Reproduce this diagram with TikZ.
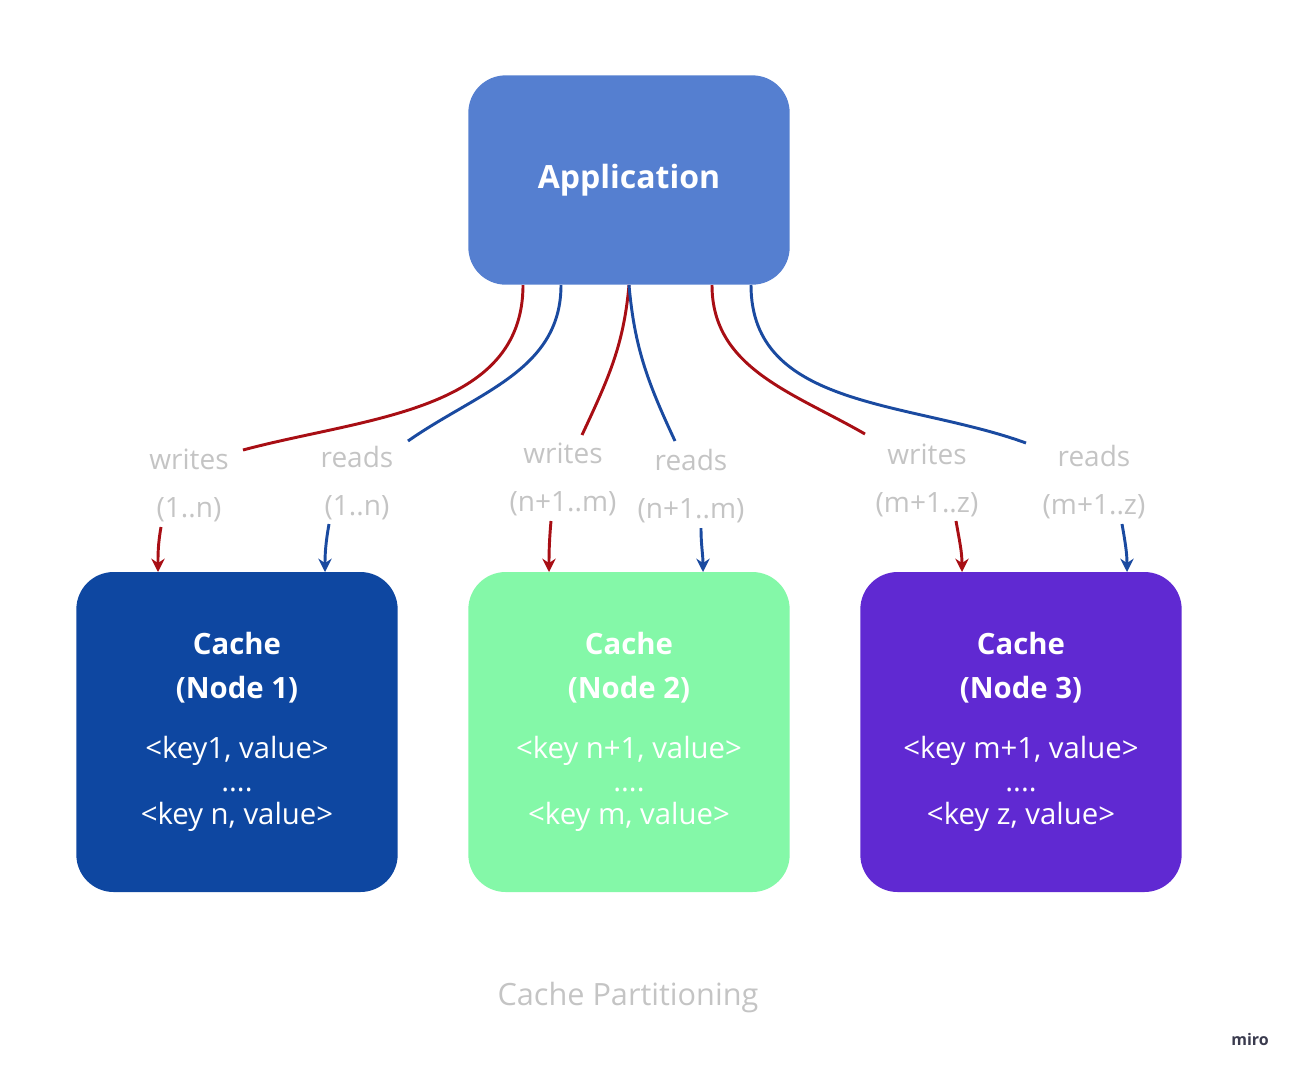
\documentclass[tikz,border=0pt]{standalone}
\usepackage{fontspec}
\setmainfont{Open Sans}
\usetikzlibrary{arrows.meta, positioning}
\definecolor{appblue}{HTML}{557FD0}
\definecolor{nodeblue}{HTML}{0E47A1}
\definecolor{nodegreen}{HTML}{84F8A8}
\definecolor{nodepurple}{HTML}{6029D2}
\definecolor{wred}{HTML}{A80E14}
\definecolor{rblue}{HTML}{1A4AA0}
\definecolor{lblgray}{HTML}{C4C4C4}
\definecolor{miroink}{HTML}{3A3B4E}

\begin{document}
\begin{tikzpicture}[
		x=0.75pt, y=-0.75pt,
		box/.style	={ rounded corners=28pt, minimum width=241pt, minimum height=240pt,
			text=white, align=center, inner sep=0pt,
			font=\fontsize{22}{33}\selectfont
		},
		lbl/.style	={ text=lblgray, align=center, inner sep=1pt,
			font=\fontsize{21}{36}\selectfont
		},
		wline/.style	={ draw=wred, line width=2.2pt },
		rline/.style	={ draw=rblue, line width=2.2pt },
		tip/.style	={ -{Stealth[length=10pt,width=10pt]} },
	]
	\useasboundingbox (0,0) rectangle (1300,1076);

	% application and cache nodes
	\node (app) [box, fill=appblue, minimum height=157pt, font=\bfseries\fontsize{24}{30}\selectfont]
		at (629,180) {Application};
	\node (c1) [box, fill=nodeblue] at (237,732)
		{\textbf{Cache}\\\textbf{(Node 1)}\\[12pt]<key1, value>\\[-8pt]....\\[-8pt]<key n, value>};
	\node (c2) [box, fill=nodegreen] at (629,732)
		{\textbf{Cache}\\\textbf{(Node 2)}\\[12pt]<key n+1, value>\\[-8pt]....\\[-8pt]<key m, value>};
	\node (c3) [box, fill=nodepurple] at (1021,732)
		{\textbf{Cache}\\\textbf{(Node 3)}\\[12pt]<key m+1, value>\\[-8pt]....\\[-8pt]<key z, value>};

	% labels
	\node (w1) [lbl] at (189,485) {writes\\(1..n)};
	\node (r1) [lbl] at (357,483) {reads\\(1..n)};
	\node (w2) [lbl] at (563,479) {writes\\(n+1..m)};
	\node (r2) [lbl] at (691,486) {reads\\(n+1..m)};
	\node (w3) [lbl] at (927,480) {writes\\(m+1..z)};
	\node (r3) [lbl] at (1094,482) {reads\\(m+1..z)};

	% ends of the curves
	\coordinate (aw1) at (523,285);	\coordinate (ew1) at (243,450);
	\coordinate (ar1) at (561,285);	\coordinate (er1) at (408,441);
	\coordinate (aw2) at (629,285);	\coordinate (ew2) at (582,435);
	\coordinate (ar2) at (629,285);	\coordinate (er2) at (675,441);
	\coordinate (aw3) at (712,285);	\coordinate (ew3) at (865,434);
	\coordinate (ar3) at (751,285);	\coordinate (er3) at (1026,443);
	\coordinate (sw1) at (161,527);	\coordinate (tw1) at (158,572);
	\coordinate (sr1) at (329,524);	\coordinate (tr1) at (325,572);
	\coordinate (sw2) at (551,521);	\coordinate (tw2) at (549,572);
	\coordinate (sr2) at (701,528);	\coordinate (tr2) at (703,572);
	\coordinate (sw3) at (956,521);	\coordinate (tw3) at (962,572);
	\coordinate (sr3) at (1122,524);	\coordinate (tr3) at (1127,572);

	% curves from application
	\draw [wline] (aw1) to[out=-90, in=15] (ew1);
	\draw [rline] (ar1) to[out=-90, in=35] (er1);
	\draw [wline] (aw2) to[out=-95, in=65] (ew2);
	\draw [rline] (ar2) to[out=-85, in=115] (er2);
	\draw [wline] (aw3) to[out=-90, in=150] (ew3);
	\draw [rline] (ar3) to[out=-90, in=160] (er3);

	% arrows into caches
	\draw [wline, tip] (sw1) to[out=-100, in=90] (tw1);
	\draw [rline, tip] (sr1) to[out=-100, in=90] (tr1);
	\draw [wline, tip] (sw2) to[out=-95, in=90] (tw2);
	\draw [rline, tip] (sr2) to[out=-90, in=90] (tr2);
	\draw [wline, tip] (sw3) to[out=-80, in=90] (tw3);
	\draw [rline, tip] (sr3) to[out=-80, in=90] (tr3);

	% caption
	\node (cap) [lbl, font=\fontsize{23}{28}\selectfont] at (628,998) {Cache Partitioning};
	\node (miro) [text=miroink, font=\bfseries\fontsize{12}{14}\selectfont] at (1250,1039) {miro};
\end{tikzpicture}
\end{document}
